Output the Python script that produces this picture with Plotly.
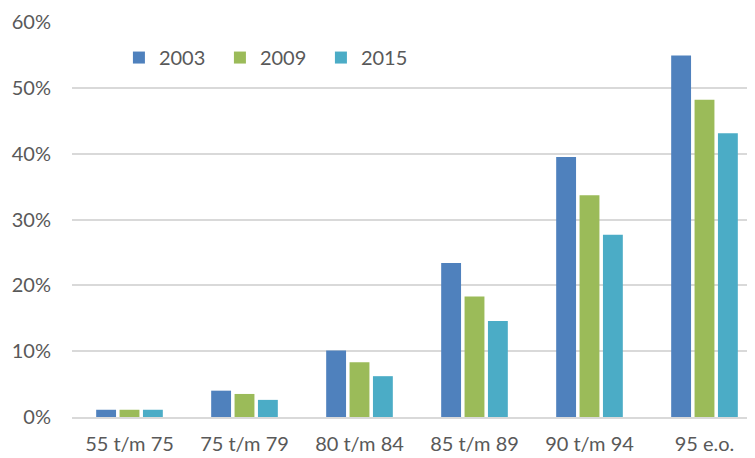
import plotly.graph_objects as go

categories = ["55 t/m 75", "75 t/m 79", "80 t/m 84", "85 t/m 89", "90 t/m 94", "95 e.o."]
v2003 = [1.1, 4.0, 10.1, 23.4, 39.5, 54.9]
v2009 = [1.1, 3.5, 8.3, 18.3, 33.7, 48.2]
v2015 = [1.1, 2.6, 6.2, 14.6, 27.7, 43.1]
series = [("2003", v2003, "#4f81bd"), ("2009", v2009, "#9bbb59"), ("2015", v2015, "#4bacc6")]

fig = go.Figure()
for name, vals, col in series:
    fig.add_trace(go.Bar(x=categories, y=[v / 100 for v in vals], name=name,
                         marker=dict(color=col, line=dict(width=0))))

fig.update_layout(
    width=755, height=458,
    margin=dict(l=64, r=1, t=14, b=49),
    paper_bgcolor="white", plot_bgcolor="white",
    font=dict(family="Lato, Open Sans, sans-serif", size=20, color="#595959"),
    barmode="group", bargap=0.39, bargroupgap=0.15,
    showlegend=True,
    legend=dict(orientation="h", x=0.068, y=0.91, xanchor="left", yanchor="middle",
                font=dict(size=20, color="#595959"), itemwidth=30, traceorder="normal",
                entrywidth=56, entrywidthmode="pixels",
                bgcolor="rgba(0,0,0,0)"),
    xaxis=dict(range=[-0.5, 5.5], showgrid=False, showline=True, linecolor="#d9d9d9",
               linewidth=1.5, ticks="", tickfont=dict(size=20), ticklabelstandoff=8),
    yaxis=dict(range=[0, 0.6], dtick=0.1, tickformat=".0%", showgrid=True,
               gridcolor="#d9d9d9", gridwidth=1.5, zeroline=False, showline=False,
               ticks="", ticklabelstandoff=20, tickfont=dict(size=20)),
)
fig.write_html("out.html")
